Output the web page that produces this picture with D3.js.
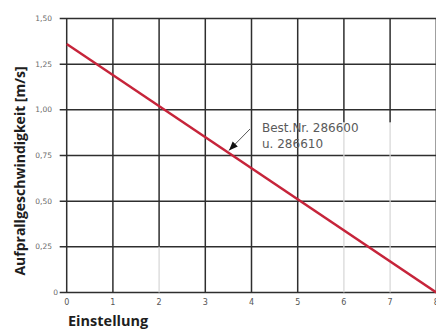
<!DOCTYPE html>
<html>
<head>
<meta charset="utf-8">
<script src="https://cdn.jsdelivr.net/npm/d3@7"></script>
<style>
  html, body { margin: 0; padding: 0; background: #fff; }
  svg { display: block; }
</style>
</head>
<body>
<svg id="chart" width="436" height="329"></svg>
<script>
// Impact speed versus setting
const settings = [0, 1, 2, 3, 4, 5, 6, 7, 8];
const speedAtSetting = [1.36, 0.00];          // speed at setting 0 and setting 8
const speedEnds = [0, 8];
const yTicks = [0, 0.25, 0.5, 0.75, 1.0, 1.25, 1.5];
const yTickLabels = ["0", "0,25", "0,50", "0,75", "1,00", "1,25", "1,50"];
const xTickLabels = ["0", "1", "2", "3", "4", "5", "6", "7", "8"];
const noteLines = ["Best.Nr. 286600", "u. 286610"];
const notePointAt = 3.49;                      // setting the note arrow points to
// vertical grid lines drawn pale below a given speed
const paleSettings = [2, 6, 7];
const paleBelow = [0.25, 0.93, 0.93];

const svg = d3.select("#chart");
const x = d3.scaleLinear().domain([0, 8]).range([66.7, 436.3]);
const y = d3.scaleLinear().domain([0, 1.5]).range([292.5, 18.5]);

const grid = svg.append("g");

// horizontal grid lines, with a short tick left of the axis
grid.selectAll("line.h").data(yTicks).join("line")
  .attr("class", "h")
  .attr("x1", x(0) - 7).attr("x2", 436)
  .attr("y1", d => y(d)).attr("y2", d => y(d))
  .attr("stroke", "#2e2e2e").attr("stroke-width", 1.5);

// vertical grid lines
settings.forEach(s => {
  const i = paleSettings.indexOf(s);
  const split = i >= 0 ? paleBelow[i] : 0;
  grid.append("line")
    .attr("x1", x(s)).attr("x2", x(s))
    .attr("y1", y(1.5)).attr("y2", y(split))
    .attr("stroke", "#2e2e2e").attr("stroke-width", 1.5);
  if (i >= 0) {
    grid.append("line")
      .attr("x1", x(s)).attr("x2", x(s))
      .attr("y1", y(split)).attr("y2", y(0))
      .attr("stroke", "#d6d6d6").attr("stroke-width", 1.2);
  }
});

// y tick labels
svg.append("g").selectAll("text").data(yTicks).join("text")
  .attr("x", (d, i) => d === 0 ? 58 : 52)
  .attr("y", d => y(d))
  .attr("dy", "0.35em")
  .attr("text-anchor", "end")
  .attr("font-family", "DejaVu Sans, sans-serif")
  .attr("font-size", 7.5)
  .attr("fill", "#6a6a6a")
  .text((d, i) => yTickLabels[i]);

// x tick labels
svg.append("g").selectAll("text").data(settings).join("text")
  .attr("x", d => x(d))
  .attr("y", 302)
  .attr("dy", "0.35em")
  .attr("text-anchor", "middle")
  .attr("font-family", "DejaVu Sans, sans-serif")
  .attr("font-size", 8)
  .attr("fill", "#555")
  .text((d, i) => xTickLabels[i]);

// speed line
const line = d3.line().x((d, i) => x(speedEnds[i])).y(d => y(d));
svg.append("path")
  .datum(speedAtSetting)
  .attr("d", line)
  .attr("fill", "none")
  .attr("stroke", "#c6243a")
  .attr("stroke-width", 2.4);

// note with arrow
const tipX = x(notePointAt);
const tipY = y(speedAtSetting[0] * (1 - notePointAt / 8));
svg.append("defs").append("marker")
  .attr("id", "arrow")
  .attr("viewBox", "0 0 10 10")
  .attr("refX", 10).attr("refY", 5)
  .attr("markerWidth", 9).attr("markerHeight", 9)
  .attr("markerUnits", "userSpaceOnUse")
  .attr("orient", "auto")
  .append("path").attr("d", "M0,1 L10,5 L0,9 Z").attr("fill", "#111");
svg.append("line")
  .attr("x1", 250).attr("y1", 129)
  .attr("x2", tipX + 1).attr("y2", tipY - 2)
  .attr("stroke", "#444").attr("stroke-width", 0.9)
  .attr("marker-end", "url(#arrow)");

svg.append("g").selectAll("text").data(noteLines).join("text")
  .attr("x", 262)
  .attr("y", (d, i) => 132 + i * 16)
  .attr("font-family", "DejaVu Sans, sans-serif")
  .attr("font-size", 12)
  .attr("fill", "#5a5a5a")
  .text(d => d);

// axis titles
svg.append("text")
  .attr("x", 68).attr("y", 326)
  .attr("font-family", "Open Sans, sans-serif")
  .attr("font-weight", "bold")
  .attr("font-size", 14.5)
  .attr("fill", "#1e1e1e")
  .text("Einstellung");

svg.append("text")
  .attr("transform", "translate(25,171) rotate(-90)")
  .attr("text-anchor", "middle")
  .attr("font-family", "Open Sans, sans-serif")
  .attr("font-weight", "bold")
  .attr("font-size", 14)
  .attr("fill", "#1e1e1e")
  .text("Aufprallgeschwindigkeit [m/s]");
</script>
</body>
</html>
